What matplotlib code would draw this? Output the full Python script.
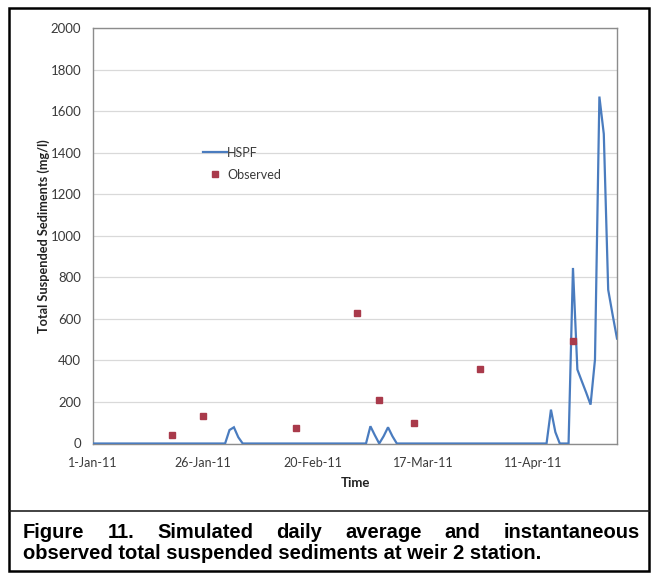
import matplotlib
matplotlib.use('Agg')
import matplotlib.pyplot as plt
from matplotlib.lines import Line2D
from matplotlib.patches import Rectangle
import pandas as pd

# ---- data ----
hspf_dates = ['2011-01-01', '2011-01-31', '2011-02-01', '2011-02-02', '2011-02-03', '2011-02-04',
              '2011-03-04', '2011-03-05', '2011-03-06', '2011-03-07', '2011-03-08', '2011-03-09',
              '2011-03-10', '2011-03-11', '2011-04-14', '2011-04-15', '2011-04-16', '2011-04-17',
              '2011-04-19', '2011-04-20', '2011-04-21', '2011-04-22', '2011-04-23', '2011-04-24',
              '2011-04-25', '2011-04-26', '2011-04-27', '2011-04-28', '2011-04-29', '2011-04-30']
hspf_values = [0, 0, 65, 78, 30, 0,
               0, 83, 40, 0, 35, 78,
               35, 0, 0, 163, 55, 0,
               0, 845, 356, 300, 245, 187,
               404, 1670, 1490, 740, 620, 505]

obs_dates = ['2011-01-19', '2011-01-26', '2011-02-16', '2011-03-02', '2011-03-07',
             '2011-03-15', '2011-03-30', '2011-04-20']
obs_values = [43, 131, 77, 627, 211, 98, 359, 495]

x_tick_dates = ['2011-01-01', '2011-01-26', '2011-02-20', '2011-03-17', '2011-04-11']
x_tick_labels = ['1-Jan-11', '26-Jan-11', '20-Feb-11', '17-Mar-11', '11-Apr-11']
y_ticks = [0, 200, 400, 600, 800, 1000, 1200, 1400, 1600, 1800, 2000]

series_names = ['HSPF', 'Observed']
x_label = 'Time'
y_label = 'Total Suspended Sediments (mg/l)'
caption_line1 = 'Figure 11. Simulated daily average and instantaneous'
caption_line2 = 'observed total suspended sediments at weir 2 station.'

# ---- figure ----
W, H = 657, 578
fig = plt.figure(figsize=(W / 100, H / 100), dpi=100)
fig.patch.set_facecolor('white')


def fx(px):
    return px / W


def fy(py):
    return 1 - py / H


chart_font = ['Lato', 'DejaVu Sans']
line_color = '#4A7CBF'
obs_color = '#A93A4B'
text_color = '#3a3a3a'

ax_left, ax_right, ax_top, ax_bottom = 93, 617, 28, 443.5
ax = fig.add_axes([fx(ax_left), fy(ax_bottom), fx(ax_right) - fx(ax_left), fy(ax_top) - fy(ax_bottom)])
ax.plot(pd.to_datetime(hspf_dates), hspf_values, color=line_color, lw=1.6,
        label=series_names[0], zorder=3, solid_joinstyle='miter')
ax.plot(pd.to_datetime(obs_dates), obs_values, ls='none', marker='s', ms=5,
        color=obs_color, label=series_names[1], zorder=4)

ax.set_xlim(pd.Timestamp('2011-01-01'), pd.Timestamp('2011-04-30'))
ax.set_ylim(0, 2000)
ax.set_yticks(y_ticks)
ax.set_yticklabels([str(v) for v in y_ticks], fontfamily=chart_font, fontsize=9.5, color=text_color)
ax.set_xticks(pd.to_datetime(x_tick_dates))
ax.set_xticklabels(x_tick_labels, fontfamily=chart_font, fontsize=9, color=text_color)
ax.tick_params(axis='both', length=0)
ax.tick_params(axis='y', pad=8.5)
ax.tick_params(axis='x', pad=9.5)
ax.yaxis.grid(True, color='#d9d9d9', lw=0.9)
ax.set_axisbelow(True)
for s in ax.spines.values():
    s.set_color('#8c8c8c')
    s.set_linewidth(1.0)

ax.set_xlabel(x_label, fontfamily=chart_font, fontsize=9.5, fontweight='bold', color='#222222', labelpad=6)
ax.set_ylabel(y_label, fontfamily=chart_font, fontsize=9.2, fontweight='bold', color='#222222')
ax.yaxis.label.set_va('center')
ax.yaxis.set_label_coords((43.5 - ax_left) / (ax_right - ax_left), 0.5)

leg = ax.legend(loc='upper left', bbox_to_anchor=(fx(203), fy(146.5)), bbox_transform=fig.transFigure,
                frameon=False, handlelength=1.9, handletextpad=0.05, labelspacing=0.8,
                borderpad=0, borderaxespad=0, prop={'family': chart_font, 'size': 9})
for t in leg.get_texts():
    t.set_color(text_color)

# ---- outer frame, separator and caption ----
fig.patches.append(Rectangle((fx(9), fy(571)), fx(649) - fx(9), fy(8) - fy(571),
                             transform=fig.transFigure, fill=False, edgecolor='black', lw=1.8))
fig.lines.append(Line2D([fx(9), fx(649)], [fy(511), fy(511)], transform=fig.transFigure,
                        color='#222222', lw=1.2))

cap_font = dict(family=['Liberation Sans', 'DejaVu Sans'], weight='bold', size=14.5, color='black')
fig.canvas.draw()
renderer = fig.canvas.get_renderer()
words = caption_line1.split()
texts = [fig.text(0, fy(537.5), w, va='baseline', ha='left', **cap_font) for w in words]
widths = [t.get_window_extent(renderer).width for t in texts]
x_left, x_right = 23, 640
gap = (x_right - x_left - sum(widths)) / (len(words) - 1)
x = x_left
for t, w in zip(texts, widths):
    t.set_x(fx(x))
    x += w + gap
fig.text(fx(23), fy(559), caption_line2, va='baseline', ha='left', **cap_font)

fig.savefig('out.png', dpi=100, facecolor='white')
